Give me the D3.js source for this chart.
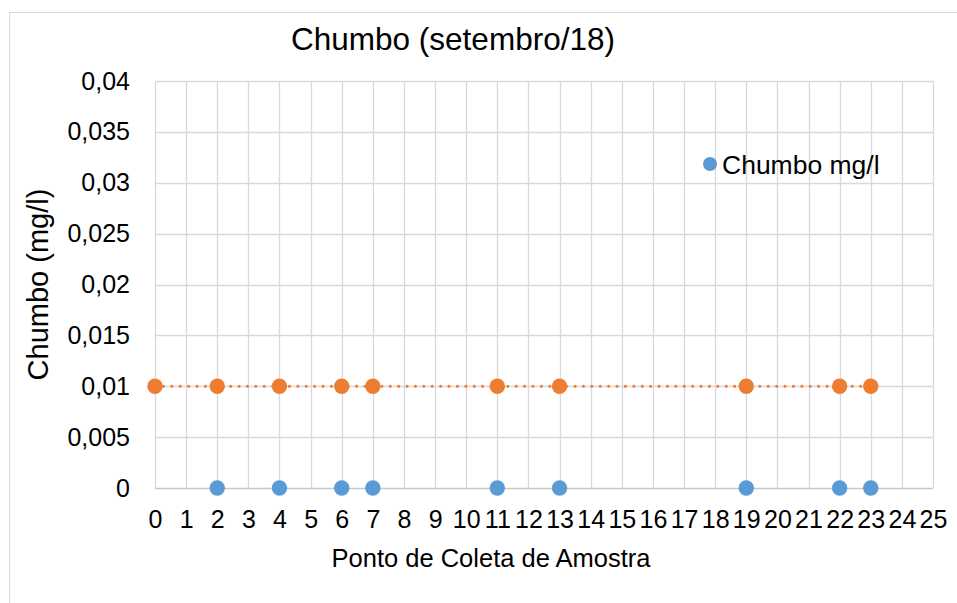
<!DOCTYPE html>
<html>
<head>
<meta charset="utf-8">
<script src="https://cdn.jsdelivr.net/npm/d3@7"></script>
<style>
  body { margin: 0; background: #fff; }
  svg { font-family: "Liberation Sans", Arial, sans-serif; }
</style>
</head>
<body>
<div id="chart"></div>
<script>
// Data
const points = [2, 4, 6, 7, 11, 13, 19, 22, 23];
const chumbo = [0, 0, 0, 0, 0, 0, 0, 0, 0];
const limitePoints = [0, 2, 4, 6, 7, 11, 13, 19, 22, 23];
const limite = [0.01, 0.01, 0.01, 0.01, 0.01, 0.01, 0.01, 0.01, 0.01, 0.01];
const yTicks = [0, 0.005, 0.01, 0.015, 0.02, 0.025, 0.03, 0.035, 0.04];
const xTicks = d3.range(0, 26);

const width = 957, height = 603;
const m = { left: 155, right: 24, top: 81, bottom: 115 };
const ctrW = width - m.left - m.right;
const ctrH = height - m.top - m.bottom;

const svg = d3.select("#chart").append("svg")
  .attr("width", width).attr("height", height);

// chart frame
svg.append("rect")
  .attr("x", 9.5).attr("y", 12.5)
  .attr("width", 960).attr("height", 600)
  .attr("fill", "#fff").attr("stroke", "#d9d9d9");

const ctr = svg.append("g").attr("transform", `translate(${m.left},${m.top})`);

const x = d3.scaleLinear().domain([0, 25]).range([0, ctrW]);
const y = d3.scaleLinear().domain([0, 0.04]).range([ctrH, 0]);
const fmt = (d) => String(+d.toFixed(3)).replace(".", ",");

// grid
ctr.append("g").selectAll("line").data(xTicks).join("line")
  .attr("x1", (d) => Math.round(x(d)) + 0.5).attr("x2", (d) => Math.round(x(d)) + 0.5)
  .attr("y1", 0).attr("y2", ctrH)
  .attr("stroke", "#d9d9d9").attr("stroke-width", 1.3);
ctr.append("g").selectAll("line").data(yTicks.filter((d) => d > 0)).join("line")
  .attr("x1", 0).attr("x2", ctrW)
  .attr("y1", (d) => Math.round(y(d)) + 0.5).attr("y2", (d) => Math.round(y(d)) + 0.5)
  .attr("stroke", "#d9d9d9").attr("stroke-width", 1.3);

// x axis line
ctr.append("line")
  .attr("x1", 0).attr("x2", ctrW)
  .attr("y1", ctrH + 0.5).attr("y2", ctrH + 0.5)
  .attr("stroke", "#c8c8c8").attr("stroke-width", 1.5);

// axes
const xAxis = d3.axisBottom(x).tickValues(xTicks).tickSize(0).tickFormat(d3.format("d"));
const xg = ctr.append("g").attr("transform", `translate(0,${ctrH})`).call(xAxis);
xg.select(".domain").remove();
xg.selectAll("text")
  .attr("y", 40).attr("dy", null)
  .attr("font-size", 25).attr("fill", "#000").attr("font-family", "Liberation Sans, Arial");

const yAxis = d3.axisLeft(y).tickValues(yTicks).tickSize(0).tickPadding(25).tickFormat(fmt);
const yg = ctr.append("g").call(yAxis);
yg.select(".domain").remove();
yg.selectAll("text").attr("font-size", 25).attr("fill", "#000").attr("font-family", "Liberation Sans, Arial");

// orange dotted line + markers
const line = d3.line().x((d, i) => x(limitePoints[i])).y((d) => y(d));
ctr.append("path")
  .datum(limite)
  .attr("d", line)
  .attr("fill", "none")
  .attr("stroke", "#ed7d31")
  .attr("stroke-width", 3)
  .attr("stroke-linecap", "round")
  .attr("stroke-dasharray", "0.1 8.3");

ctr.append("g").selectAll("circle").data(limite).join("circle")
  .attr("cx", (d, i) => x(limitePoints[i])).attr("cy", (d) => y(d))
  .attr("r", 7.7).attr("fill", "#ed7d31");

ctr.append("g").selectAll("circle").data(chumbo).join("circle")
  .attr("cx", (d, i) => x(points[i])).attr("cy", (d) => y(d))
  .attr("r", 7.7).attr("fill", "#5b9bd5");

// title & labels
svg.append("text")
  .attr("x", 453).attr("y", 50)
  .attr("text-anchor", "middle").attr("font-size", 31.5)
  .text("Chumbo (setembro/18)");

svg.append("text")
  .attr("x", 491).attr("y", 567)
  .attr("text-anchor", "middle").attr("font-size", 25.5)
  .text("Ponto de Coleta de Amostra");

svg.append("text")
  .attr("transform", `translate(48,${m.top + ctrH / 2}) rotate(-90)`)
  .attr("text-anchor", "middle").attr("font-size", 29)
  .text("Chumbo (mg/l)");

// legend
svg.append("circle").attr("cx", 710).attr("cy", 164).attr("r", 7).attr("fill", "#5b9bd5");
svg.append("text").attr("x", 722).attr("y", 174).attr("font-size", 26.5).text("Chumbo mg/l");
</script>
</body>
</html>
